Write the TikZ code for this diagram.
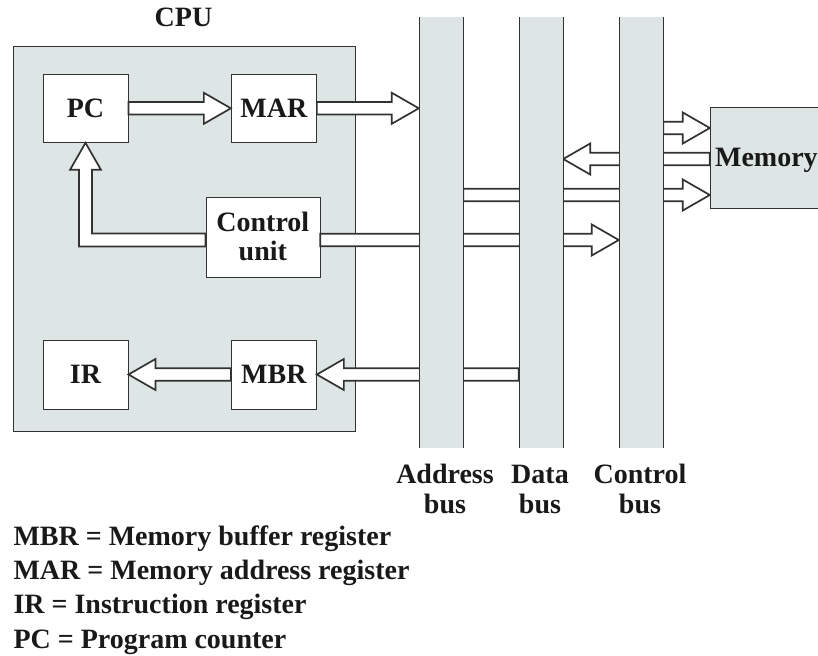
\documentclass[tikz,border=0pt]{standalone}
\usepackage{fontspec}
\setmainfont{Liberation Serif}
\usetikzlibrary{calc}
\definecolor{busfill}{RGB}{221,230,229}
\definecolor{ln}{RGB}{50,50,50}
\definecolor{ink}{RGB}{25,25,25}
\pgfdeclarelayer{bg}
\pgfdeclarelayer{fg}
\pgfsetlayers{bg,main,fg}
% hollow horizontal arrow from #1 to tip #2 (same height)
\newcommand{\harrow}[2]{%
  \filldraw[hollow] let \p1=(#1), \p2=(#2), \n1={sign(\x2-\x1)} in
    (\x1,\y1+6.25pt) -- (\x2-\n1*27pt,\y1+6.25pt) -- (\x2-\n1*27pt,\y1+15.5pt)
    -- (\x2,\y1) -- (\x2-\n1*27pt,\y1-15.5pt) -- (\x2-\n1*27pt,\y1-6.25pt)
    -- (\x1,\y1-6.25pt) -- cycle;}
\begin{document}
\begin{tikzpicture}[x=1pt,y=-1pt,line width=1.7pt,
  txt/.style={font=\fontsize{28}{29}\selectfont\bfseries, text=ink},
  regbox/.style={txt, draw=ln, fill=white, inner sep=0pt, minimum width=85.6pt, minimum height=68.7pt},
  busbar/.style={fill=busfill, inner sep=0pt, minimum width=44pt, minimum height=431pt},
  busline/.style={draw=ln},
  buslabel/.style={txt, align=center, anchor=north, inner sep=0pt, font=\fontsize{28}{30}\selectfont\bfseries},
  hollow/.style={draw=ln, fill=white, line join=miter, line width=1.7pt}]
\useasboundingbox (0,0) rectangle (818,655);

\begin{pgfonlayer}{bg}
  \node[draw=ln, fill=busfill, minimum width=341.5pt, minimum height=385pt, inner sep=0pt] (cpu) at (184.25,239) {};
\end{pgfonlayer}
\node[txt, anchor=base] (cpulabel) at (183.5,27) {CPU};

\node[regbox] (PC) at (85.5,108.3) {PC};
\node[regbox] (MAR) at (273.85,108.3) {MAR};
\node[regbox, minimum width=114.3pt, minimum height=80pt, align=center,
      font=\fontsize{28}{28.5}\selectfont\bfseries] (CU) at (262.85,236.7) {Control\\unit};
\node[regbox] (IR) at (85.5,374.5) {IR};
\node[regbox] (MBR) at (273.85,374.5) {MBR};

\begin{pgfonlayer}{fg}
  \node[busbar] (abus) at (441,232.5) {};
  \node[busbar] (dbus) at (541,232.5) {};
  \node[busbar] (cbus) at (641,232.5) {};
  \draw[busline] (abus.north west) -- (abus.south west) (abus.north east) -- (abus.south east);
  \draw[busline] (dbus.north west) -- (dbus.south west) (dbus.north east) -- (dbus.south east);
  \draw[busline] (cbus.north west) -- (cbus.south west) (cbus.north east) -- (cbus.south east);
  \node[txt, draw=ln, fill=busfill, inner sep=0pt, text depth=0pt, minimum width=112.8pt, minimum height=101.5pt] (mem) at (766.4,157.75) {Memory};
\end{pgfonlayer}

% arrows
\harrow{PC.east}{MAR.west}
\harrow{MAR.east}{MAR.east -| abus.west}
\coordinate (cuo) at ([yshift=-3.3pt]CU.east);
\harrow{cuo}{cuo -| cbus.west}
\filldraw[hollow] let \p1=([yshift=-3.3pt]CU.west), \p2=(PC.south) in
  (\x1,\y1+6.5pt) -- (\x2+6.5pt,\y1+6.5pt) -- (\x2+6.5pt,\y2-27pt) -- (\x2+15.5pt,\y2-27pt)
  -- (\x2,\y2) -- (\x2-15.5pt,\y2-27pt) -- (\x2-6.5pt,\y2-27pt) -- (\x2-6.5pt,\y1-6.5pt)
  -- (\x1,\y1-6.5pt) -- cycle;
\coordinate (m1) at ([yshift=29.75pt]mem.west);
\harrow{m1 -| cbus.east}{m1}
\coordinate (m2) at ([yshift=-1.25pt]mem.west);
\harrow{m2}{m2 -| dbus.east}
\coordinate (m3) at ([yshift=-37.25pt]mem.west);
\harrow{m3 -| abus.east}{m3}
\harrow{MBR.east -| dbus.west}{MBR.east}
\harrow{MBR.west}{IR.east}

% bus labels
\node[buslabel] (alab) at (445,462) {\strut Address\\bus};
\node[buslabel] (dlab) at (540,462) {\strut Data\\bus};
\node[buslabel] (clab) at (640,462) {\strut Control\\bus};

% legend
\node[txt, anchor=base west, inner sep=0pt] (l1) at (13.3,545) {MBR = Memory buffer register};
\node[txt, anchor=base west, inner sep=0pt] (l2) at (13.3,579.4) {MAR = Memory address register};
\node[txt, anchor=base west, inner sep=0pt] (l3) at (13.3,613.8) {IR = Instruction register};
\node[txt, anchor=base west, inner sep=0pt] (l4) at (13.3,648.2) {PC = Program counter};
\end{tikzpicture}
\end{document}
